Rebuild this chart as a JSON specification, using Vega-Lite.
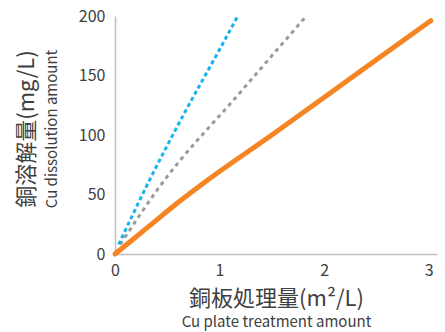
{
  "$schema": "https://vega.github.io/schema/vega-lite/v6.json",
  "width": 322,
  "height": 238,
  "autosize": {"type": "none"},
  "padding": {"left": 115, "top": 16, "right": 8, "bottom": 78},
  "background": "white",
  "config": {
    "font": "Noto Sans CJK JP",
    "view": {"stroke": null},
    "axis": {"grid": false, "ticks": false, "labelColor": "#404040", "titleColor": "#404040", "labelFontSize": 16, "domainColor": "#BFBFBF", "domainWidth": 1.5, "titleFontWeight": "normal"}
  },
  "title": {
    "text": "銅溶解量(mg/L)",
    "subtitle": "Cu dissolution amount",
    "orient": "left",
    "anchor": "middle",
    "fontSize": 22,
    "fontWeight": "normal",
    "color": "#404040",
    "subtitleFontSize": 15,
    "subtitleColor": "#404040",
    "subtitlePadding": 6,
    "offset": 17,
    "dx": 6
  },
  "data": {
    "values": [
      {"series": "orange", "x": 0, "y": 0},
      {"series": "orange", "x": 0.3, "y": 21.5},
      {"series": "orange", "x": 0.6, "y": 43},
      {"series": "orange", "x": 0.9, "y": 63},
      {"series": "orange", "x": 1.5, "y": 100},
      {"series": "orange", "x": 2.4, "y": 157},
      {"series": "orange", "x": 3.02, "y": 196},
      {"series": "gray", "x": 0.05, "y": 8},
      {"series": "gray", "x": 0.43, "y": 57},
      {"series": "gray", "x": 1.2, "y": 136},
      {"series": "gray", "x": 1.81, "y": 198},
      {"series": "blue", "x": 0.035, "y": 8},
      {"series": "blue", "x": 0.33, "y": 62},
      {"series": "blue", "x": 0.68, "y": 121},
      {"series": "blue", "x": 0.97, "y": 167},
      {"series": "blue", "x": 1.175, "y": 200}
    ]
  },
  "layer": [
    {
      "transform": [{"filter": "datum.series === 'gray'"}],
      "mark": {"type": "line", "color": "#9B9B9B", "strokeWidth": 3, "strokeDash": [4, 4], "interpolate": "monotone"},
      "encoding": {
        "x": {"field": "x", "type": "quantitative", "scale": {"domain": [0, 3.08], "nice": false},
          "axis": {"values": [0, 1, 2, 3], "title": "銅板処理量(m²/L)", "titleFontSize": 22, "labelPadding": 8, "titlePadding": 10, "labelFlush": false}},
        "y": {"field": "y", "type": "quantitative", "scale": {"domain": [0, 200], "nice": false},
          "axis": {"values": [0, 50, 100, 150, 200], "title": null, "labelPadding": 10}}
      }
    },
    {
      "transform": [{"filter": "datum.series === 'blue'"}],
      "mark": {"type": "line", "color": "#16B4EC", "strokeWidth": 3, "strokeDash": [4, 3], "interpolate": "monotone"},
      "encoding": {
        "x": {"field": "x", "type": "quantitative",
          "axis": {"orient": "bottom", "title": "Cu plate treatment amount", "titleFontSize": 15, "labels": false, "domain": false, "titlePadding": 60}},
        "y": {"field": "y", "type": "quantitative"}
      }
    },
    {
      "transform": [{"filter": "datum.series === 'orange'"}],
      "mark": {"type": "line", "color": "#F58523", "strokeWidth": 5, "strokeCap": "round", "interpolate": "monotone"},
      "encoding": {
        "x": {"field": "x", "type": "quantitative", "axis": null},
        "y": {"field": "y", "type": "quantitative"}
      }
    }
  ],
  "resolve": {"axis": {"x": "independent"}}
}
